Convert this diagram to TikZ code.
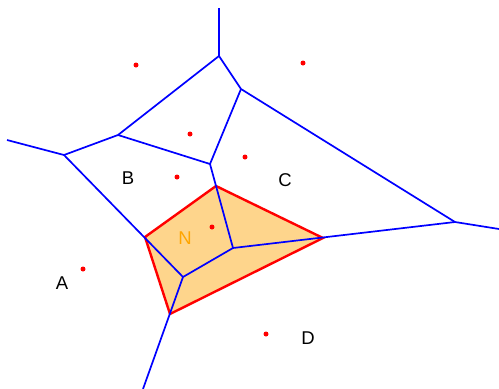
\documentclass[tikz,border=0pt]{standalone}
\usepackage{fontspec}
\setmainfont{Liberation Sans}
\definecolor{cellfill}{RGB}{254,213,140}
\definecolor{vblue}{RGB}{0,0,255}
\definecolor{nred}{RGB}{255,0,0}
\definecolor{norange}{RGB}{255,165,0}
\tikzset{
  edge/.style={draw=vblue, line width=1.7pt},
  cell/.style={draw=nred, line width=2.4pt, fill=cellfill, line join=miter},
  site/.style={circle, fill=nred, inner sep=0pt, minimum size=5pt},
  lbl/.style={font=\fontsize{18.5}{21}\selectfont, inner sep=0pt}
}
\begin{document}
\begin{tikzpicture}[x=1pt,y=-1pt]
\useasboundingbox (0,0) rectangle (499,389);
% Voronoi vertices and free ends
\coordinate (t0) at (219,8);
\coordinate (v1) at (219,56);
\coordinate (v2) at (241,89);
\coordinate (v3) at (118,135);
\coordinate (v4) at (64,155);
\coordinate (l0) at (7,140);
\coordinate (v5) at (210,164);
\coordinate (v6) at (455,222);
\coordinate (r0) at (499,229);
\coordinate (p1) at (233,248);
\coordinate (p2) at (183,277);
\coordinate (b0) at (143,389);
% new cell corners
\coordinate (n1) at (216,186);
\coordinate (n2) at (323,238);
\coordinate (n3) at (170,314);
\coordinate (n4) at (145,237);
% new cell
\path[cell] (n1) -- (n2) -- (n3) -- (n4) -- cycle;
% Voronoi edges
\draw[edge] (t0) -- (v1);
\draw[edge] (v1) -- (v2);
\draw[edge] (v1) -- (v3);
\draw[edge] (v3) -- (v4);
\draw[edge] (l0) -- (v4);
\draw[edge] (v3) -- (v5);
\draw[edge] (v2) -- (v5);
\draw[edge] (v2) -- (v6);
\draw[edge] (v6) -- (r0);
\draw[edge] (v5) -- (p1);
\draw[edge] (v4) -- (p2);
\draw[edge] (p1) -- (p2);
\draw[edge] (p1) -- (v6);
\draw[edge] (p2) -- (b0);
% sites
\node[site] (s1) at (136,65) {};
\node[site] (s2) at (303,63) {};
\node[site] (s3) at (190,134) {};
\node[site] (s4) at (245,157) {};
\node[site] (s5) at (177,177) {};
\node[site] (s6) at (212,227) {};
\node[site] (s7) at (83,269) {};
\node[site] (s8) at (266,334) {};
% labels
\node[lbl] (lB) at (128,178) {B};
\node[lbl] (lC) at (285,180) {C};
\node[lbl, text=norange] (lN) at (185,238) {N};
\node[lbl] (lA) at (62,283) {A};
\node[lbl] (lD) at (308,338) {D};
\end{tikzpicture}
\end{document}
